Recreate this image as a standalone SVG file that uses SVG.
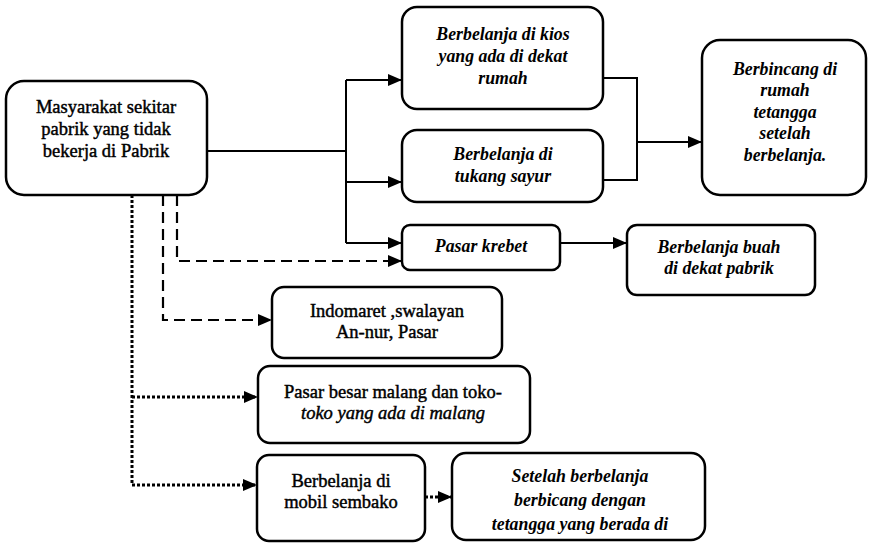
<svg xmlns="http://www.w3.org/2000/svg" width="871" height="544" viewBox="0 0 871 544" font-family="Liberation Serif, Times New Roman, serif">
  <style>
    .box { fill: #fff; stroke: #000; stroke-width: 2.5; }
    .t { font-size: 18.5px; fill: #000; text-anchor: middle; stroke: #000; stroke-width: 0.45; }
    .i { font-style: italic; font-weight: bold; stroke: none; font-size: 17.8px; }
    .solid { fill: none; stroke: #000; stroke-width: 2; }
    .dash { fill: none; stroke: #000; stroke-width: 2.2; stroke-dasharray: 11 6; }
    .dot { fill: none; stroke: #000; stroke-width: 3; stroke-dasharray: 3 2; }
  </style>
  <defs>
    <marker id="arrow" viewBox="0 0 14 12" refX="14" refY="6" markerWidth="14" markerHeight="12" markerUnits="userSpaceOnUse" orient="auto">
      <path d="M0,0 L14,6 L0,12 Z" fill="#000"/>
    </marker>
  </defs>
  <rect width="871" height="544" fill="#fff"/>

  <!-- connectors -->
  <g id="connectors">
    <path class="solid" d="M207,151 H346"/>
    <path class="solid" d="M346,80 V243"/>
    <path class="solid" d="M346,80 H402" marker-end="url(#arrow)"/>
    <path class="solid" d="M346,182 H402" marker-end="url(#arrow)"/>
    <path class="solid" d="M346,243 H402" marker-end="url(#arrow)"/>
    <path class="solid" d="M603,78 H637 V180 H603"/>
    <path class="solid" d="M637,142 H702" marker-end="url(#arrow)"/>
    <path class="solid" d="M560,243 H627" marker-end="url(#arrow)"/>
    <path class="dash" d="M177,195 V261 H402" marker-end="url(#arrow)"/>
    <path class="dash" d="M163,195 V320 H272" marker-end="url(#arrow)"/>
    <path class="dot" d="M132,195 V485 H257" marker-end="url(#arrow)"/>
    <path class="dot" d="M132,397 H258" marker-end="url(#arrow)"/>
    <path class="dot" d="M425,497 H452" marker-end="url(#arrow)"/>
  </g>

  <g id="masyarakat">
    <rect class="box" x="6" y="81" width="201" height="114" rx="18"/>
    <text class="t" x="106" y="113">Masyarakat sekitar</text>
    <text class="t" x="106" y="135">pabrik yang tidak</text>
    <text class="t" x="106" y="157">bekerja di Pabrik</text>
  </g>

  <g id="kios">
    <rect class="box" x="402" y="7" width="201" height="102" rx="15"/>
    <text class="t i" x="503" y="40">Berbelanja di kios</text>
    <text class="t i" x="503" y="62">yang ada di dekat</text>
    <text class="t i" x="503" y="84">rumah</text>
  </g>

  <g id="tukang-sayur">
    <rect class="box" x="402" y="130" width="201" height="72" rx="15"/>
    <text class="t i" x="503" y="160">Berbelanja di</text>
    <text class="t i" x="503" y="182">tukang sayur</text>
  </g>

  <g id="berbincang">
    <rect class="box" x="702" y="40" width="164" height="155" rx="18"/>
    <text class="t i" x="785" y="75">Berbincang di</text>
    <text class="t i" x="785" y="96">rumah</text>
    <text class="t i" x="785" y="118">tetangga</text>
    <text class="t i" x="785" y="139">setelah</text>
    <text class="t i" x="785" y="161">berbelanja.</text>
  </g>

  <g id="pasar-krebet">
    <rect class="box" x="402" y="225" width="158" height="45" rx="8"/>
    <text class="t i" x="481" y="252">Pasar krebet</text>
  </g>

  <g id="buah">
    <rect class="box" x="627" y="225" width="188" height="70" rx="10"/>
    <text class="t i" x="719" y="253">Berbelanja buah</text>
    <text class="t i" x="719" y="274">di dekat pabrik</text>
  </g>

  <g id="indomaret">
    <rect class="box" x="272" y="287" width="230" height="71" rx="12"/>
    <text class="t" x="387" y="317">Indomaret ,swalayan</text>
    <text class="t" x="387" y="338">An-nur, Pasar</text>
  </g>

  <g id="pasar-besar">
    <rect class="box" x="258" y="366" width="272" height="77" rx="12"/>
    <text class="t" x="393" y="398">Pasar besar malang dan toko-</text>
    <text class="t" x="393" y="419" font-style="italic">toko yang ada di malang</text>
  </g>

  <g id="mobil">
    <rect class="box" x="257" y="455" width="168" height="86" rx="12"/>
    <text class="t" x="341" y="487">Berbelanja di</text>
    <text class="t" x="341" y="508">mobil sembako</text>
  </g>

  <g id="setelah">
    <rect class="box" x="452" y="453" width="253" height="87" rx="14"/>
    <text class="t i" x="580" y="482">Setelah berbelanja</text>
    <text class="t i" x="580" y="506">berbicang dengan</text>
    <text class="t i" x="580" y="530">tetangga yang berada di</text>
  </g>
</svg>
